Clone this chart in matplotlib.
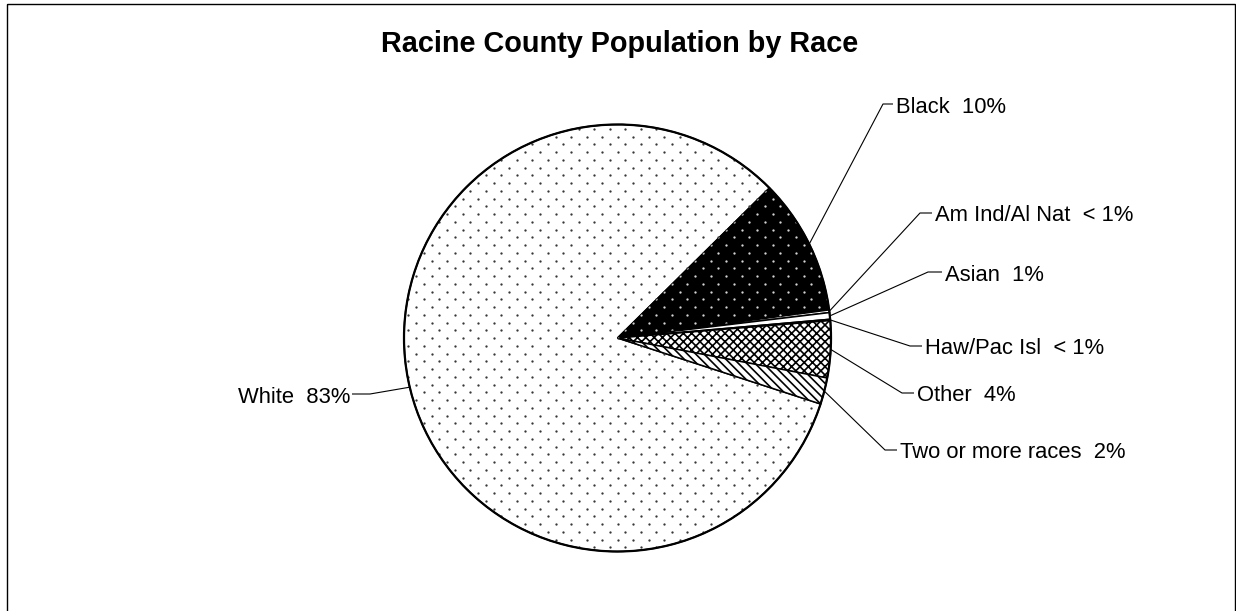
import numpy as np
import matplotlib
matplotlib.use("Agg")
import matplotlib.pyplot as plt
from matplotlib.patches import Circle, Rectangle

plt.rcParams['font.family'] = ['Liberation Sans', 'DejaVu Sans']
plt.rcParams['hatch.linewidth'] = 1.2

# ---- data -------------------------------------------------------------
title = "Racine County Population by Race"
categories = ["White", "Black", "Am Ind/Al Nat", "Asian", "Haw/Pac Isl",
              "Other", "Two or more races"]
shares = [82.6, 10.3, 0.2, 0.5, 0.1, 4.3, 2.0]   # percent of population


def pct_text(v):
    return "< 1%" if v < 0.5 else f"{int(v + 0.5)}%"


labels = [f"{c}  {pct_text(v)}" for c, v in zip(categories, shares)]

# ---- styling ----------------------------------------------------------
fills = ['white', 'black', 'white', 'white', 'white', 'white', 'white']
hatches = [None, None, None, None, None, 'xxxx', '\\\\\\\\']

# label layout in pixels: text x, baseline y, alignment, elbow x, stub end x, stub y
label_layout = [
    (350, 403, 'right', 370, 352, 394),
    (896, 113, 'left', 883, 893, 104),
    (935, 221, 'left', 920, 932, 213),
    (945, 281, 'left', 928, 942, 272),
    (925, 354, 'left', 910, 922, 346),
    (917, 401, 'left', 902, 914, 393),
    (900, 458, 'left', 885, 897, 450),
]

W, H = 1236, 611
fig = plt.figure(figsize=(W / 100, H / 100), dpi=100)

# pie placement (pixels)
cx, cy, R = 617.5, 338.0, 213.5
pad = 1.08
ax = fig.add_axes([(cx - R * pad) / W, (H - cy - R * pad) / H,
                   2 * R * pad / W, 2 * R * pad / H])

wedges, _ = ax.pie(shares, startangle=-18.0, counterclock=False, radius=1,
                   colors=fills,
                   wedgeprops=dict(edgecolor='black', linewidth=1.1))
for w, h in zip(wedges, hatches):
    if h:
        w.set_hatch(h)
ax.set_xlim(-pad, pad)
ax.set_ylim(-pad, pad)
ax.axis('off')

# dotted fill texture on a staggered lattice
step = 7.75 / R
n = int(1.2 / step) + 2
ii, jj = np.meshgrid(np.arange(-n, n + 1), np.arange(-n, n + 1))
keep = (ii + jj) % 2 == 0
gx, gy = ii[keep] * step, jj[keep] * step
inside = gx ** 2 + gy ** 2 < 1.0
gx, gy = gx[inside], gy[inside]

d_white = ax.scatter(gx, gy, s=2.8, c='#383838', linewidths=0, zorder=2)
d_white.set_clip_path(wedges[0])
d_black = ax.scatter(gx, gy, s=2.8, c='#d4d4d4', linewidths=0, zorder=2)
d_black.set_clip_path(wedges[1])

ax.add_patch(Circle((0, 0), 1.0, fill=False, edgecolor='black',
                    linewidth=1.6, zorder=5))

# ---- overlay for labels, leaders and frame ---------------------------
ov = fig.add_axes([0, 0, 1, 1])
ov.set_xlim(0, W)
ov.set_ylim(H, 0)
ov.axis('off')
ov.patch.set_visible(False)

to_ov = ov.transData.inverted()
for w, lab, (tx, ty, ha, ex, sx, sy) in zip(wedges, labels, label_layout):
    mid = np.deg2rad((w.theta1 + w.theta2) / 2)
    px, py = to_ov.transform(ax.transData.transform((np.cos(mid), np.sin(mid))))
    ov.plot([px, ex, sx], [py, sy, sy], color='black', linewidth=0.8,
            solid_capstyle='butt')
    ov.text(tx, ty, lab, ha=ha, va='baseline', fontsize=15.8, color='black')

ov.text(620, 52, title, ha='center', va='baseline', fontsize=20.8,
        fontweight='bold', color='black')

ov.add_patch(Rectangle((6.5, 3.5), 1228, 700, fill=False, edgecolor='black',
                       linewidth=1.0, clip_on=False))

fig.savefig('out.png', dpi=100)
